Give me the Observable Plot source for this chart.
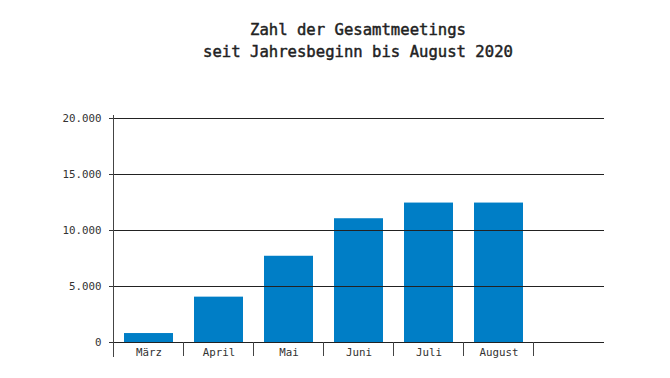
<!DOCTYPE html>
<html>
<head>
<meta charset="utf-8">
<script src="https://cdn.jsdelivr.net/npm/d3@7"></script>
<script src="https://cdn.jsdelivr.net/npm/@observablehq/plot@0.6"></script>
<style>
  html, body { margin: 0; padding: 0; background: #fff; }
  #title {
    box-sizing: border-box; height: 70px; width: 670px;
    padding-top: 18.6px; padding-left: 46px;
    font-family: "DejaVu Sans Mono", monospace; font-size: 15.6px; line-height: 22px;
    font-weight: normal; -webkit-text-stroke: 0.45px #222; color: #222; text-align: center;
  }
  svg { display: block; }
  #chart svg text { font-family: "DejaVu Sans Mono", monospace; font-size: 10.8px; fill: #333; }
</style>
</head>
<body>
<div id="title">Zahl der Gesamtmeetings<br>seit Jahresbeginn bis August 2020</div>
<div id="chart"></div>
<script>
const months = ["März", "April", "Mai", "Juni", "Juli", "August"];
const meetings = [800, 4050, 7700, 11050, 12450, 12450];
const yTicks = [0, 5000, 10000, 15000, 20000];

const fmt = d3.formatLocale({decimal: ",", thousands: ".", grouping: [3], currency: ["", "€"]}).format(",");
const data = months.map((m, i) => ({month: m, value: meetings[i]}));

const plot = Plot.plot({
  width: 670, height: 308,
  marginTop: 48, marginBottom: 36, marginLeft: 113, marginRight: 66,
  style: {fontFamily: "DejaVu Sans Mono, monospace", fontSize: "10.8px", color: "#333", background: "white", overflow: "visible"},
  x: {domain: [...months, ""], paddingInner: 0.3, paddingOuter: 0.15, label: null, tickSize: 0, tickPadding: 6},
  y: {domain: [0, 20000], ticks: yTicks, tickFormat: fmt, tickSize: 4, tickPadding: 8, label: null},
  marks: [
    Plot.barY(data, {x: "month", y: "value", fill: "#007ec6"}),
    Plot.ruleY(yTicks, {stroke: "#222", strokeWidth: 1})
  ]
});
document.getElementById("chart").appendChild(plot);

const xs = plot.scale("x"), ys = plot.scale("y");
const svg = d3.select(plot);
const step = xs.step, bw = xs.bandwidth;
const y0 = ys.apply(0), yTop = ys.apply(20000);
const g = svg.append("g").attr("stroke", "#444").attr("stroke-width", 1);
const xLeft = xs.apply(months[0]) - (step - bw) / 2;
g.append("line").attr("x1", xLeft).attr("x2", xLeft).attr("y1", yTop - 3).attr("y2", y0 + 15);
months.slice(1).forEach(m => {
  const xb = xs.apply(m) - (step - bw) / 2;
  g.append("line").attr("x1", xb).attr("x2", xb).attr("y1", y0).attr("y2", y0 + 14);
});
const xr = xs.apply(months[months.length - 1]) + bw + (step - bw) / 2;
g.append("line").attr("x1", xr).attr("x2", xr).attr("y1", y0).attr("y2", y0 + 14);
</script>
</body>
</html>
